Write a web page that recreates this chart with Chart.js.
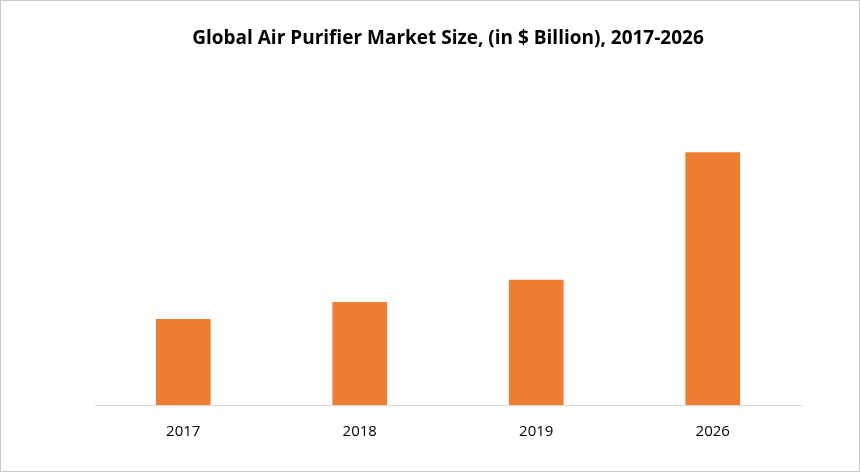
<!DOCTYPE html>
<html>
<head>
<meta charset="utf-8">
<script src="https://cdn.jsdelivr.net/npm/chart.js@4"></script>
<style>
  html, body { margin: 0; padding: 0; background: #fff; }
  #wrap { width: 858px; height: 470px; border: 1px solid #c8c8c8; position: relative; }
</style>
</head>
<body>
<div id="wrap"><canvas id="chart"></canvas></div>
<script>
const years = ['2017', '2018', '2019', '2026'];
const marketSize = [8.5, 10.2, 12.4, 25.0];

new Chart(document.getElementById('chart').getContext('2d'), {
    type: 'bar',
    data: {
        labels: years,
        datasets: [{
            label: 'Market Size',
            data: marketSize,
            backgroundColor: '#ed7d31',
            categoryPercentage: 1,
            barPercentage: 0.31
        }]
    },
    options: {
        responsive: true,
        maintainAspectRatio: false,
        animation: false,
        layout: { padding: { left: 94, right: 58, top: 0, bottom: 20 } },
        plugins: {
            legend: { display: false },
            tooltip: { enabled: false },
            title: {
                display: true,
                text: 'Global Air Purifier Market Size, (in $ Billion), 2017-2026',
                color: '#000',
                font: { family: "'Open Sans', sans-serif", size: 19, weight: 'bold' },
                padding: { top: 26, bottom: 52 }
            }
        },
        scales: {
            x: {
                grid: { display: false },
                border: { color: '#d9d9d9' },
                ticks: { color: '#000', font: { family: "'Open Sans', sans-serif", size: 15 }, padding: 10 }
            },
            y: {
                display: false,
                min: 0,
                max: 30
            }
        }
    }
});
</script>
</body>
</html>
